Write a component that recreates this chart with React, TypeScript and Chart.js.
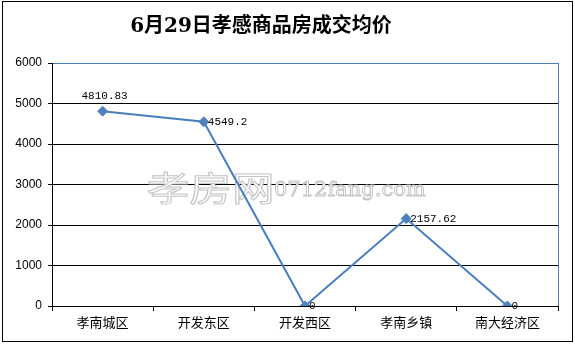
import React, { useEffect, useRef } from "react";
import { Chart, registerables } from "chart.js";

Chart.register(...registerables);

const categories = ["孝南城区", "开发东区", "开发西区", "孝南乡镇", "南大经济区"];
const prices = [4810.83, 4549.2, 0, 2157.62, 0];
const priceLabels = ["4810.83", "4549.2", "0", "2157.62", "0"];
const titleText = "6月29日孝感商品房成交均价";
const yMin = 0;
const yMax = 6000;
const yStep = 1000;

const decorPlugin = {
  id: "decor",
  beforeDatasetsDraw(chart: any) {
    const ctx = chart.ctx;
    ctx.save();
    // watermark
    ctx.lineWidth = 1;
    ctx.strokeStyle = "#c4c4c4";
    ctx.fillStyle = "#ffffff";
    ctx.textBaseline = "middle";
    ctx.textAlign = "left";
    ctx.save();
    ctx.translate(147, 188);
    ctx.scale(1.25, 1);
    ctx.font = '34px "Noto Sans CJK SC"';
    ctx.fillText("孝房网", 0, 0);
    ctx.strokeText("孝房网", 0, 0);
    ctx.restore();
    ctx.font = '21px "DejaVu Serif"';
    ctx.fillText("0712fang.com", 274, 191);
    ctx.strokeText("0712fang.com", 274, 191);
    ctx.restore();
  },
  afterDraw(chart: any) {
    const ctx = chart.ctx;
    const area = chart.chartArea;
    ctx.save();
    // outer border
    ctx.strokeStyle = "#000000";
    ctx.lineWidth = 1;
    ctx.strokeRect(2.5, 1.5, 570, 340);
    // right plot border
    ctx.strokeStyle = "#4a7ebb";
    ctx.beginPath();
    ctx.moveTo(Math.round(area.right) + 0.5, area.top);
    ctx.lineTo(Math.round(area.right) + 0.5, area.bottom);
    ctx.stroke();
    // title
    ctx.fillStyle = "#000000";
    ctx.font = 'bold 20px "DejaVu Serif", "Noto Sans CJK SC"';
    ctx.textAlign = "center";
    ctx.textBaseline = "middle";
    ctx.fillText(titleText, 261, 27);
    // data labels
    const meta = chart.getDatasetMeta(0);
    ctx.font = '11px "Liberation Mono", "DejaVu Sans Mono"';
    meta.data.forEach((pt: any, i: number) => {
      if (i === 0) {
        ctx.textAlign = "center";
        ctx.fillText(priceLabels[i], pt.x + 2, pt.y - 15);
      } else {
        ctx.textAlign = "left";
        ctx.fillText(priceLabels[i], pt.x + 4, pt.y);
      }
    });
    ctx.restore();
  },
};

export default function App() {
  const ref = useRef<HTMLCanvasElement | null>(null);
  useEffect(() => {
    if (!ref.current) return;
    const chart = new Chart(ref.current, {
      type: "line",
      data: {
        labels: categories,
        datasets: [
          {
            data: prices,
            borderColor: "#4a7ebb",
            backgroundColor: "#4f81bd",
            borderWidth: 2,
            pointStyle: "rectRot",
            pointRadius: 5,
            pointBorderWidth: 1,
            pointBorderColor: "#4f81bd",
            pointBackgroundColor: "#4f81bd",
            tension: 0,
          },
        ],
      },
      options: {
        animation: false,
        responsive: false,
        devicePixelRatio: 1,
        layout: { padding: { left: 0, right: 17, top: 63, bottom: 0 } },
        plugins: {
          legend: { display: false },
          tooltip: { enabled: false },
          title: { display: false },
        },
        scales: {
          x: {
            type: "category",
            offset: true,
            grid: {
              offset: true,
              drawOnChartArea: false,
              drawTicks: true,
              tickLength: 5,
              color: "#000000",
            },
            border: { color: "#000000", width: 1 },
            ticks: {
              color: "#000000",
              padding: 3,
              font: { family: '"Noto Sans CJK SC"', size: 13 },
              maxRotation: 0,
            },
            afterFit(scale: any) {
              scale.height = 38;
            },
          },
          y: {
            min: yMin,
            max: yMax,
            ticks: {
              stepSize: yStep,
              color: "#000000",
              padding: 6,
              font: { family: '"Liberation Sans", Arial', size: 12 },
              callback: (v: any) => String(v),
            },
            grid: {
              color: (c: any) => (c.tick && c.tick.value === yMax ? "#4a7ebb" : "#000000"),
              tickColor: "#000000",
              tickLength: 4,
              lineWidth: 1,
            },
            border: { color: "#000000", width: 1 },
            afterFit(scale: any) {
              scale.width = 52;
            },
          },
        },
      },
      plugins: [decorPlugin],
    });
    return () => chart.destroy();
  }, []);
  return (
    <div style={{ position: "fixed", left: 0, top: 0, width: 575, height: 344, background: "#fff" }}>
      <canvas ref={ref} width={575} height={344} style={{ display: "block" }} />
    </div>
  );
}
